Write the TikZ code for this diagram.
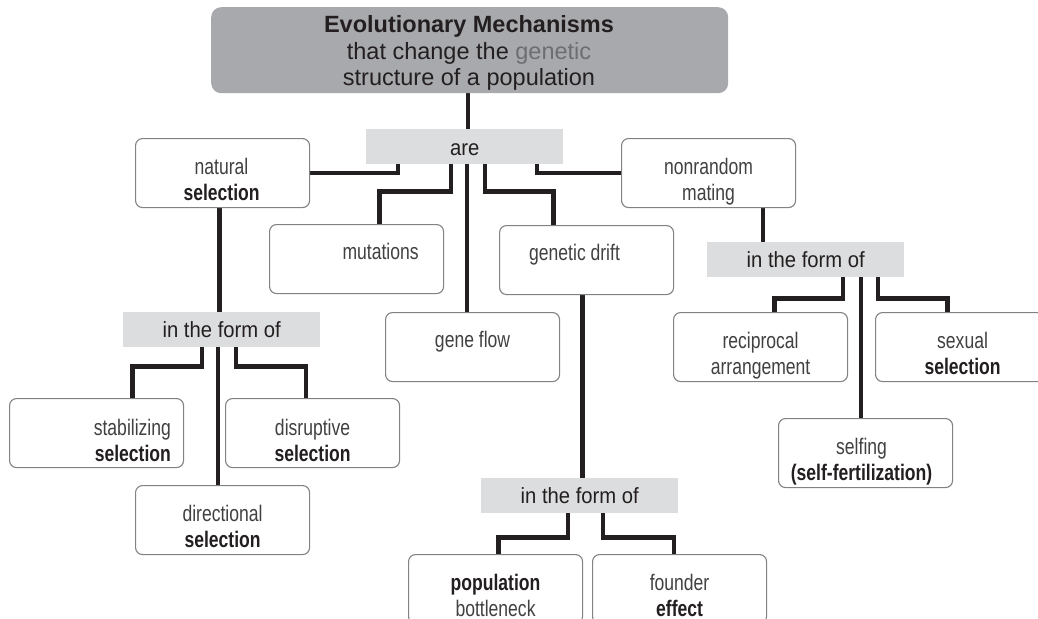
\documentclass[tikz,border=0pt]{standalone}
\usepackage{fontspec}
\setmainfont[FakeStretch=0.78]{Liberation Sans}
\newfontfamily\titlefont{Liberation Sans}
\newfontfamily\midfont[FakeStretch=0.92]{Liberation Sans}
\definecolor{ink}{HTML}{231F20}
\definecolor{lite}{HTML}{414042}
\definecolor{gentxt}{HTML}{6D6E71}
\definecolor{dkgray}{HTML}{A7A9AC}
\definecolor{ltgray}{HTML}{DCDDDE}
\definecolor{boxborder}{HTML}{808285}
\pgfdeclarelayer{bg}
\pgfsetlayers{bg,main}
\newcommand{\twoline}[3][c]{\begin{tabular}[t]{@{}#1@{}}#2\\#3\end{tabular}}
\newcommand{\bs}[1]{\textbf{\textcolor{ink}{#1}}}
\begin{document}
\begin{tikzpicture}[x=1pt,y=-1pt,
  rbox/.style={draw=boxborder, line width=1.1pt, rounded corners=7pt, minimum width=174pt, minimum height=69pt, inner sep=0pt, anchor=north west, fill=white},
  gbox/.style={fill=ltgray, minimum width=197pt, minimum height=35pt, inner sep=0pt, anchor=north west},
  txt/.style={inner sep=0pt, anchor=base, text=lite, font=\fontsize{22.5}{26.5}\selectfont},
  lbl/.style={inner sep=0pt, anchor=base, text=ink, font=\midfont\fontsize{22}{26}\selectfont},
  conn/.style={draw=ink, line width=4.3pt, line join=miter, line cap=butt}]
\useasboundingbox (0,0) rectangle (1038,618);
\clip (0,0) rectangle (1038,618);

% top box
\node[fill=dkgray, rounded corners=10pt, minimum width=517pt, minimum height=86pt, inner sep=0pt, anchor=north west] (top) at (211,7) {};
\node[anchor=base, inner sep=0pt, text=ink, font=\titlefont\fontsize{23.5}{26.5}\selectfont] (title) at (469,33)
  {\begin{tabular}[t]{@{}c@{}}\textbf{Evolutionary Mechanisms}\\that change the \textcolor{gentxt}{genetic}\\structure of a population\end{tabular}};

% linking boxes
\node[gbox] (are) at (366,129) {};
\node[lbl] (aretxt) at ([yshift=-26pt]are.north) {are};
\node[gbox] (itfoA) at (123,312) {};
\node[lbl] (itfoAtxt) at ([yshift=-25pt]itfoA.north) {in the form of};
\node[gbox] (itfoB) at (707,242) {};
\node[lbl] (itfoBtxt) at ([yshift=-25pt]itfoB.north) {in the form of};
\node[gbox] (itfoC) at (481,478) {};
\node[lbl] (itfoCtxt) at ([yshift=-25pt]itfoC.north) {in the form of};

% concept boxes
\node[rbox] (nat) at (135,138) {};
\node[txt] (nattxt) at ([xshift=-1pt,yshift=-36pt]nat.north) {\twoline{natural}{\bs{selection}}};
\node[rbox] (mut) at (269,224) {};
\node[txt] (muttxt) at ([xshift=24pt,yshift=-35pt]mut.north) {mutations};
\node[rbox] (gf) at (385,312) {};
\node[txt] (gftxt) at ([yshift=-35pt]gf.north) {gene flow};
\node[rbox] (drift) at (499,225) {};
\node[txt] (drifttxt) at ([xshift=-12pt,yshift=-35pt]drift.north) {genetic drift};
\node[rbox] (nonr) at (621,138) {};
\node[txt] (nonrtxt) at ([yshift=-36pt]nonr.north) {\twoline{nonrandom}{mating}};

\node[rbox] (stab) at (9,398) {};
\node[txt, anchor=base east] (stabtxt) at ([xshift=-13pt,yshift=-37pt]stab.north east) {\twoline[r]{stabilizing}{\bs{selection}}};
\node[rbox] (disr) at (225,398) {};
\node[txt] (disrtxt) at ([yshift=-37pt]disr.north) {\twoline{disruptive}{\bs{selection}}};
\node[rbox] (dir) at (135,485) {};
\node[txt] (dirtxt) at ([yshift=-36pt]dir.north) {\twoline{directional}{\bs{selection}}};

\node[rbox] (recip) at (673,312) {};
\node[txt] (reciptxt) at ([yshift=-36pt]recip.north) {\twoline{reciprocal}{arrangement}};
\node[rbox] (sex) at (875,312) {};
\node[txt] (sextxt) at ([yshift=-36pt]sex.north) {\twoline{sexual}{\bs{selection}}};
\node[rbox] (self) at (778,418) {};
\node[txt] (selftxt) at ([xshift=-4pt,yshift=-36pt]self.north) {\twoline{selfing}{\bs{(self-fertilization)}}};

\node[rbox] (pop) at (408,554) {};
\node[txt] (poptxt) at ([yshift=-36pt]pop.north) {\twoline{\bs{population}}{bottleneck}};
\node[rbox] (found) at (592,554) {};
\node[txt] (foundtxt) at ([yshift=-36pt]found.north) {\twoline{founder}{\bs{effect}}};

% connectors
\begin{pgfonlayer}{bg}
\draw[conn] ([xshift=-1.5pt]top.south) -- ([xshift=-1.5pt]top.south |- are.north);
\draw[conn] ([xshift=32pt]are.south west) |- (nat.east);
\draw[conn] ([xshift=85pt]are.south west) -- ++(0,27) -| ([xshift=23pt]mut.north);
\draw[conn] ([xshift=101pt]are.south west) -- ([xshift=101pt]are.south west |- gf.north);
\draw[conn] ([xshift=119pt]are.south west) -- ++(0,27) -| ([xshift=-33pt]drift.north);
\draw[conn] ([xshift=171pt]are.south west) |- (nonr.west);

\draw[conn] ([xshift=-3pt]nat.south) -- ([xshift=-3pt]nat.south |- itfoA.north);
\draw[conn] ([xshift=95pt]itfoA.south west) -- ([xshift=95pt]itfoA.south west |- dir.north);
\draw[conn] ([xshift=79pt]itfoA.south west) -- ++(0,19) -| ([xshift=36pt]stab.north);
\draw[conn] ([xshift=113pt]itfoA.south west) -- ++(0,19) -| ([xshift=-6.5pt]disr.north);

\draw[conn] ([xshift=-4pt]drift.south) -- ([xshift=-4pt]drift.south |- itfoC.north);
\draw[conn] ([xshift=87pt]itfoC.south west) -- ++(0,24) -| ([xshift=3pt]pop.north);
\draw[conn] ([xshift=122pt]itfoC.south west) -- ++(0,24) -| ([xshift=-5.5pt]found.north);

\draw[conn] ([xshift=54.5pt]nonr.south) -- ([xshift=54.5pt]nonr.south |- itfoB.north);
\draw[conn] ([xshift=136pt]itfoB.south west) -- ++(0,21) -| ([xshift=14pt]recip.north);
\draw[conn] ([xshift=154pt]itfoB.south west) -- ([xshift=154pt]itfoB.south west |- self.north);
\draw[conn] ([xshift=171pt]itfoB.south west) -- ++(0,21) -| ([xshift=-15pt]sex.north);
\end{pgfonlayer}
\end{tikzpicture}
\end{document}
